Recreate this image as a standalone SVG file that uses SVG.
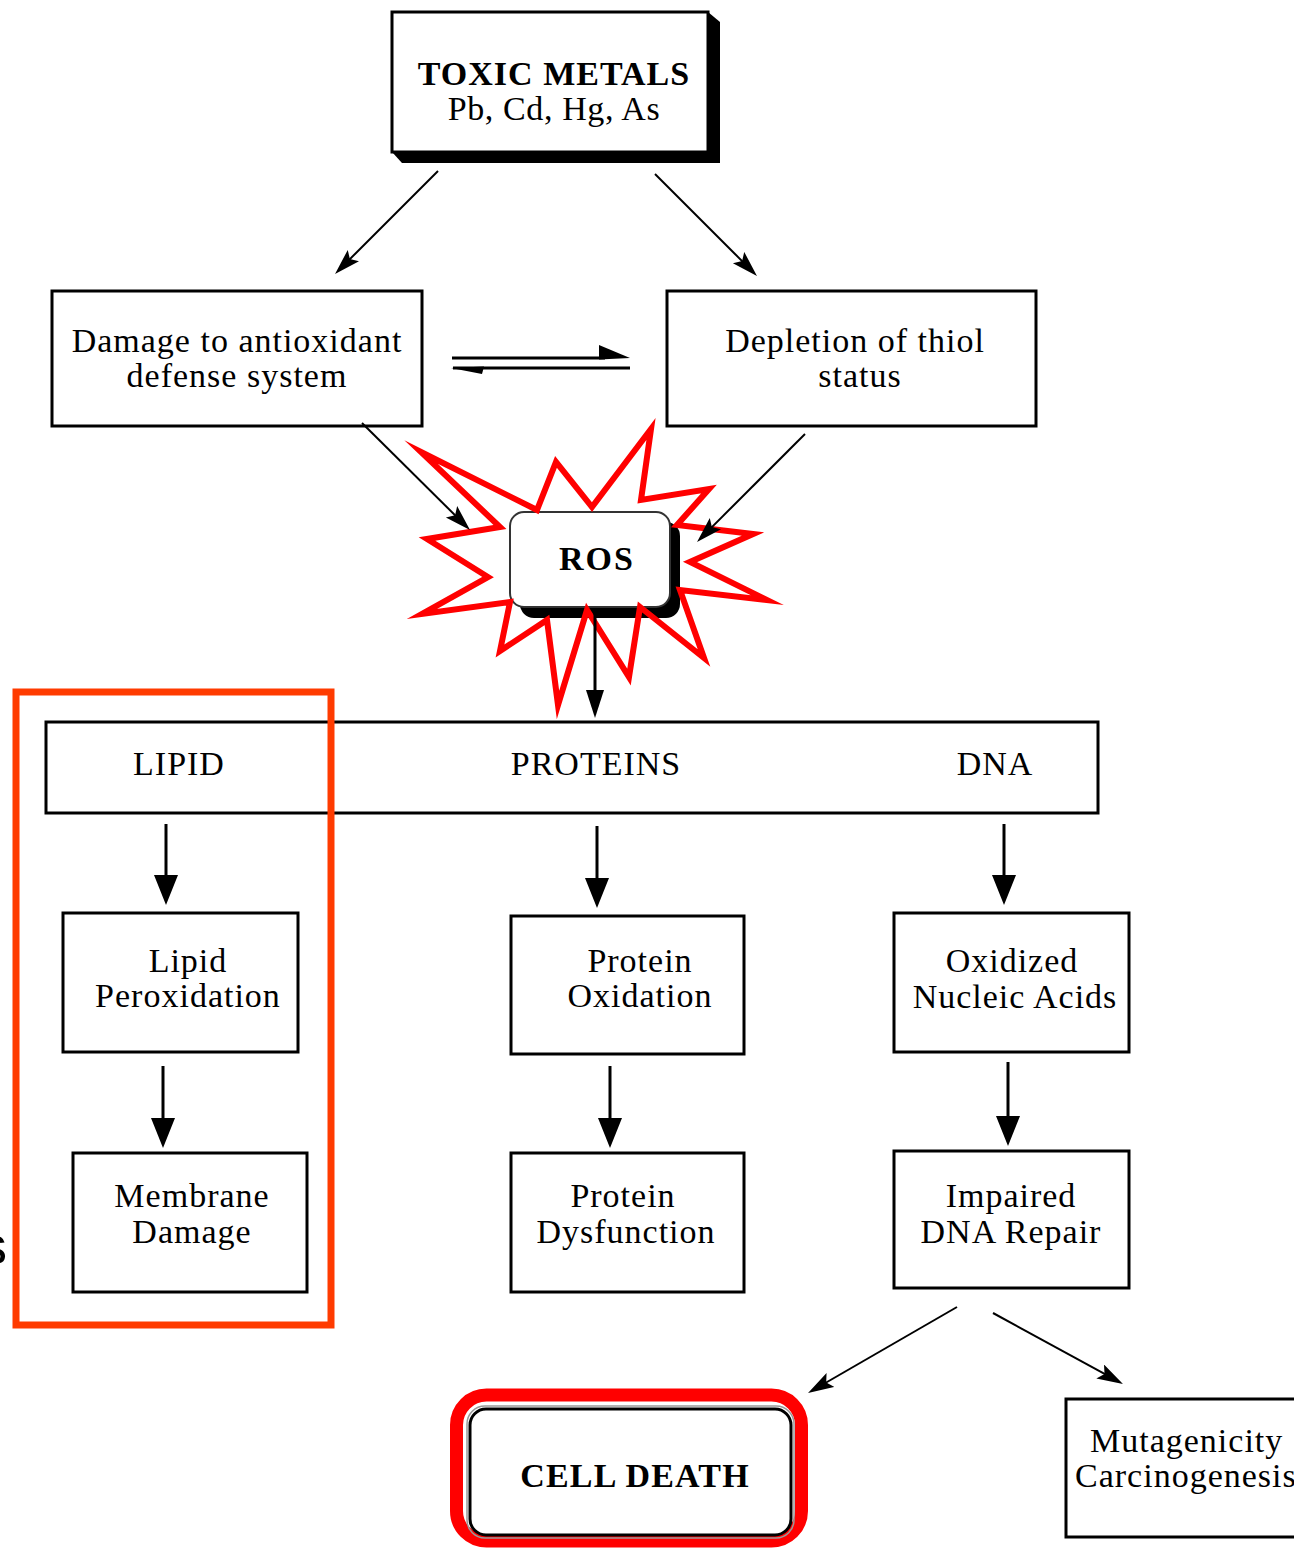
<svg xmlns="http://www.w3.org/2000/svg" width="1294" height="1548" viewBox="0 0 1294 1548">
<defs>
<style>
.box{fill:#fff;stroke:#000;stroke-width:3}
.t{font-family:"Liberation Serif","Times New Roman",serif;font-size:34px;letter-spacing:1px;fill:#000;text-anchor:middle}
.s{text-anchor:start}
.b{font-weight:bold}
.c{stroke:#000;fill:none}
.v{stroke-width:3;marker-end:url(#ah)}
.n{stroke-width:3;marker-end:url(#an)}
.d{stroke-width:2;marker-end:url(#as)}
</style>
<marker id="ah" markerUnits="userSpaceOnUse" markerWidth="32" markerHeight="26" refX="18" refY="12" orient="auto"><path d="M0,0 L30,12 L0,24 Z" fill="#000"/></marker>
<marker id="an" markerUnits="userSpaceOnUse" markerWidth="30" markerHeight="20" refX="16" refY="9" orient="auto"><path d="M0,0 L28,9 L0,18 Z" fill="#000"/></marker>
<marker id="as" markerUnits="userSpaceOnUse" markerWidth="28" markerHeight="18" refX="16" refY="8" orient="auto"><path d="M0,0 L26,8 L0,16 L5,8 Z" fill="#000"/></marker>
</defs>
<rect width="1294" height="1548" fill="#fff"/>

<g id="toxic-metals">
<polygon points="708,12 720,22 720,163 402,163 392,152" fill="#000"/>
<rect class="box" x="392" y="12" width="316" height="140"/>
<text class="t b" x="554" y="85">TOXIC METALS</text>
<text class="t" x="554" y="120" style="letter-spacing:0.6px">Pb, Cd, Hg, As</text>
</g>

<g id="damage-antioxidant">
<rect class="box" x="52" y="291" width="370" height="135"/>
<text class="t" x="237" y="352">Damage to antioxidant</text>
<text class="t" x="237" y="387">defense system</text>
</g>

<g id="depletion-thiol">
<rect class="box" x="667" y="291" width="369" height="135"/>
<text class="t" x="855" y="352">Depletion of thiol</text>
<text class="t" x="860" y="387">status</text>
</g>

<g id="ros">
<rect x="520" y="522" width="160" height="96" rx="14" fill="#000"/>
<rect x="510" y="512" width="160" height="95" rx="14" fill="#fff" stroke="#333" stroke-width="2"/>
<text class="t b" x="597" y="570" style="letter-spacing:2px">ROS</text>
<polygon points="421,452 537,510 556,462 592,507 651,429 641,500 709,489 677,525 753,534 690,562 767,600 680,590 704,658 640,607 629,677 587,610 558,705 547,620 500,651 510,602 422,614 488,577 427,539 500,527" fill="none" stroke="#ff0000" stroke-width="6" stroke-linejoin="miter" stroke-miterlimit="20"/>
</g>

<g id="targets">
<rect class="box" x="46" y="722" width="1052" height="91"/>
<text class="t" x="179" y="775">LIPID</text>
<text class="t" x="596" y="775">PROTEINS</text>
<text class="t" x="995" y="775">DNA</text>
</g>

<g id="lipid-peroxidation">
<rect class="box" x="63" y="913" width="235" height="139"/>
<text class="t" x="188" y="972">Lipid</text>
<text class="t" x="188" y="1007">Peroxidation</text>
</g>

<g id="protein-oxidation">
<rect class="box" x="511" y="916" width="233" height="138"/>
<text class="t" x="640" y="972">Protein</text>
<text class="t" x="640" y="1007">Oxidation</text>
</g>

<g id="oxidized-nucleic-acids">
<rect class="box" x="894" y="913" width="235" height="139"/>
<text class="t" x="1012" y="972">Oxidized</text>
<text class="t" x="1015" y="1008">Nucleic Acids</text>
</g>

<g id="membrane-damage">
<rect class="box" x="73" y="1153" width="234" height="139"/>
<text class="t" x="192" y="1207">Membrane</text>
<text class="t" x="192" y="1243">Damage</text>
</g>

<g id="protein-dysfunction">
<rect class="box" x="511" y="1153" width="233" height="139"/>
<text class="t" x="623" y="1207">Protein</text>
<text class="t" x="626" y="1243">Dysfunction</text>
</g>

<g id="impaired-dna-repair">
<rect class="box" x="894" y="1151" width="235" height="137"/>
<text class="t" x="1011" y="1207">Impaired</text>
<text class="t" x="1011" y="1243">DNA Repair</text>
</g>

<g id="cell-death">
<rect x="456.5" y="1395" width="345" height="146" rx="30" fill="#fff" stroke="#ff0000" stroke-width="13"/>
<rect x="467" y="1406" width="327" height="132" rx="18" fill="none" stroke="#999" stroke-width="1.5"/>
<rect x="470" y="1409" width="321" height="126" rx="16" fill="#fff" stroke="#000" stroke-width="3"/>
<text class="t b" x="635" y="1487" style="letter-spacing:1.2px">CELL DEATH</text>
</g>

<g id="mutagenicity">
<rect class="box" x="1066" y="1399" width="300" height="138"/>
<text class="t s" x="1090" y="1452">Mutagenicity</text>
<text class="t s" x="1075" y="1487">Carcinogenesis</text>
</g>

<g id="connectors">
<line class="c d" x1="438" y1="171" x2="342.1" y2="266.9"/>
<line class="c d" x1="655" y1="174" x2="749.9" y2="268.9"/>
<line class="c" stroke-width="3" x1="452" y1="358" x2="605" y2="358"/>
<polygon points="599,345 630,358 599,359.5" fill="#000"/>
<line class="c" stroke-width="3" x1="453" y1="368" x2="630" y2="368"/>
<polygon points="451,368 484,366.5 482,374" fill="#000"/>
<line class="c d" x1="362" y1="423" x2="462.9" y2="523"/>
<line class="c d" x1="805" y1="434" x2="704.1" y2="534.9"/>
<line class="c n" x1="595" y1="608" x2="595" y2="706"/>
<line class="c v" x1="166" y1="824" x2="166" y2="893"/>
<line class="c v" x1="597" y1="826" x2="597" y2="896"/>
<line class="c v" x1="1004" y1="824" x2="1004" y2="893"/>
<line class="c v" x1="163" y1="1066" x2="163" y2="1136"/>
<line class="c v" x1="610" y1="1066" x2="610" y2="1136"/>
<line class="c v" x1="1008" y1="1062" x2="1008" y2="1134"/>
<line class="c d" x1="957" y1="1307" x2="816.7" y2="1388"/>
<line class="c d" x1="993" y1="1313" x2="1114.2" y2="1379.2"/>
</g>

<rect id="lipid-highlight" x="16" y="692" width="315" height="633" fill="none" stroke="#ff3b00" stroke-width="7"/>
<text x="7" y="1264" font-family="'Liberation Sans',Arial,sans-serif" font-size="54" text-anchor="end" fill="#000">s</text>
</svg>
